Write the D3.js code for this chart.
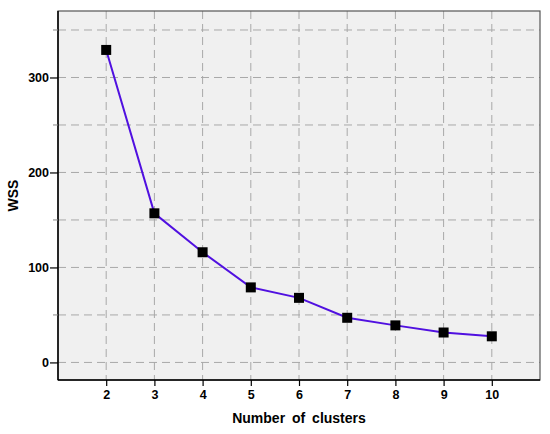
<!DOCTYPE html>
<html><head><meta charset="utf-8">
<script src="https://cdn.jsdelivr.net/npm/d3@7"></script>
<style>body{margin:0;background:#fff}svg{display:block}text{font-family:"Liberation Sans",Arial,sans-serif;font-weight:bold}</style>
</head><body>
<svg id="c" width="550" height="434"></svg>
<script>
const clusters = [2, 3, 4, 5, 6, 7, 8, 9, 10];
const wss = [329, 157, 116, 79, 68, 47, 39, 31.5, 27.5];
const yTicks = [0, 100, 200, 300];
const yGrid = [0, 50, 100, 150, 200, 250, 300, 350];
const xTitle = "Number of clusters";
const yTitle = "WSS";

const svg = d3.select("#c");
const L = 58, R = 540, T = 11, B = 380;
const x = d3.scaleLinear().domain([1, 11]).range([L, R]);
const y = d3.scaleLinear().domain([-18.5, 370]).range([B, T]);

svg.append("rect").attr("x", L).attr("y", T).attr("width", R - L).attr("height", B - T).attr("fill", "#f0f0f0");

const g = svg.append("g");
g.selectAll(".hg").data(yGrid).join("line")
  .attr("x1", L).attr("x2", R).attr("y1", d => y(d)).attr("y2", d => y(d))
  .attr("stroke", "#a8a8a8").attr("stroke-width", 1).attr("stroke-dasharray", "8,5");
g.selectAll(".vg").data(clusters).join("line")
  .attr("y1", T).attr("y2", B).attr("x1", d => x(d)).attr("x2", d => x(d))
  .attr("stroke", "#a8a8a8").attr("stroke-width", 1).attr("stroke-dasharray", "8,5");

// border
svg.append("rect").attr("x", L).attr("y", T).attr("width", R - L).attr("height", B - T)
  .attr("fill", "none").attr("stroke", "#555").attr("stroke-width", 1.2);
svg.append("line").attr("x1", L).attr("x2", R).attr("y1", B).attr("y2", B).attr("stroke", "#000").attr("stroke-width", 1.5);
svg.append("line").attr("x1", L).attr("x2", L).attr("y1", T).attr("y2", B).attr("stroke", "#000").attr("stroke-width", 1.5);

// axes
const xAxis = svg.append("g").attr("transform", `translate(0,${B})`)
  .call(d3.axisBottom(x).tickValues(clusters).tickFormat(d3.format("d")).tickSize(6).tickPadding(4));
const yAxis = svg.append("g").attr("transform", `translate(${L},0)`)
  .call(d3.axisLeft(y).tickValues(yTicks).tickFormat(d3.format("d")).tickSize(8).tickPadding(1));
[xAxis, yAxis].forEach(a => {
  a.select(".domain").remove();
  a.selectAll(".tick line").attr("stroke", "#000").attr("stroke-width", 1.2);
  a.selectAll(".tick text").attr("fill", "#000").style("font-size", "12.5px").style("font-family", '"Liberation Sans",Arial,sans-serif').style("font-weight", "bold");
});
svg.append("g").selectAll("line").data(yGrid.filter(d => !yTicks.includes(d))).join("line")
  .attr("x1", L - 5).attr("x2", L).attr("y1", d => y(d)).attr("y2", d => y(d)).attr("stroke", "#888").attr("stroke-width", 1);

// line
const data = clusters.map((c, i) => ({c, v: wss[i]}));
svg.append("path").datum(data)
  .attr("d", d3.line().x(d => x(d.c)).y(d => y(d.v)))
  .attr("fill", "none").attr("stroke", "#5010e0").attr("stroke-width", 2);
svg.append("g").selectAll("rect").data(data).join("rect")
  .attr("x", d => x(d.c) - 5).attr("y", d => y(d.v) - 5).attr("width", 10).attr("height", 10).attr("fill", "#000");

svg.append("text").attr("x", (L + R) / 2).attr("y", 423).attr("text-anchor", "middle")
  .style("font-size", "14px").style("word-spacing", "3px").text(xTitle);
svg.append("text").attr("transform", `translate(18,${(T + B) / 2}) rotate(-90)`).attr("text-anchor", "middle")
  .style("font-size", "14px").text(yTitle);
</script>
</body></html>
